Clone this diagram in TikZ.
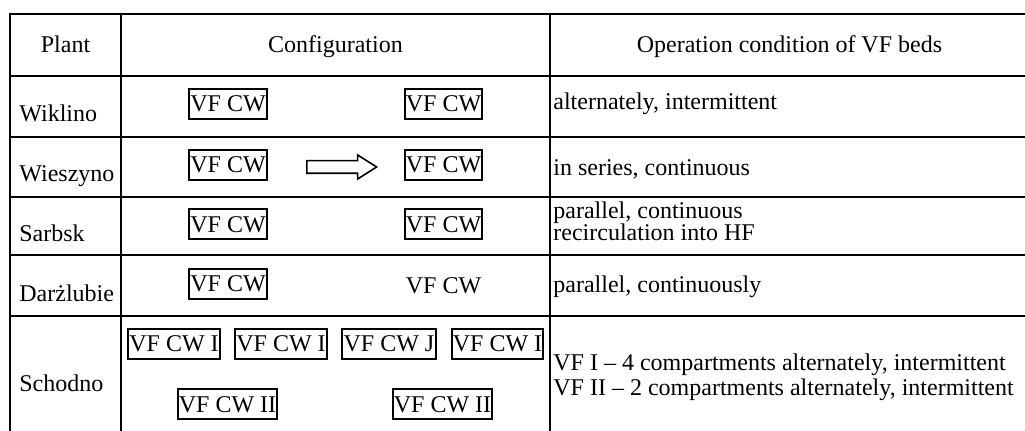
\documentclass[tikz,border=0pt]{standalone}
\usepackage{fontspec}
\setmainfont{Liberation Serif}
\usetikzlibrary{calc}
\tikzset{
	rule/.style={line width=1pt},
	bed/.style={shape=rectangle,draw,line width=1pt,
				inner xsep=0.6pt,inner ysep=0pt,
				minimum height=15pt},
	nobed/.style={bed,draw=none},
	cell/.style={anchor=base west,inner sep=0pt},
	head/.style={anchor=base,inner sep=0pt},
}

\begin{document}
\begin{tikzpicture}[x=0.5pt,y=-0.5pt,every node/.style={font=\fontsize{12}{14}\selectfont}]
		\useasboundingbox (0,0) rectangle (1025,431);
		% table rules
		\draw[rule] (10,14) -- (1030,14);
		\foreach \yy in {76,137,197,255,316}
			\draw[rule] (10,\yy) -- (1030,\yy);
		\foreach \xx in {10,121,550}
			\draw[rule] (\xx,13.5) -- (\xx,433);
		% header
		\node(hplant)[head,at={(65.5,53)}]{Plant};
		\node(hconf)[head,at={(335.5,53)}]{Configuration};
		\node(hcond)[head,at={(789.5,53)}]{Operation condition of VF beds};
		% plants
		\node(pwik)[cell,at={(19,122)}]{Wiklino};
		\node(pwie)[cell,at={(19,182)}]{Wieszyno};
		\node(psar)[cell,at={(19,241.5)}]{Sarbsk};
		\node(pdar)[cell,at={(19,301.5)}]{Darżlubie};
		\node(psch)[cell,at={(19,391.5)}]{Schodno};
		% configuration
		\node(wik1)[bed,at={(228,104)}]{VF CW};
		\node(wik2)[bed,at={(443.5,104)}]{VF CW};
		\node(wie1)[bed,at={(228,165)}]{VF CW};
		\node(wie2)[bed,at={(443.5,165)}]{VF CW};
		\node(sar1)[bed,at={(228,224.5)}]{VF CW};
		\node(sar2)[bed,at={(443.5,224.5)}]{VF CW};
		\node(dar1)[bed,at={(228,284)}]{VF CW};
		\node(dar2)[nobed,at={(443.5,286)}]{VF CW};
		\node(sch1)[bed,at={(174,344)}]{VF CW I};
		\node(sch2)[bed,at={(281,344)}]{VF CW I};
		\node(sch3)[bed,at={(389,344)}]{VF CW J};
		\node(sch4)[bed,at={(497.5,344)}]{VF CW I};
		\node(schb1)[bed,at={(227.5,404.5)}]{VF CW II};
		\node(schb2)[bed,at={(442.5,404.5)}]{VF CW II};
		% series flow
		\coordinate (tail) at ($(wie1.east)+(39,2)$);
		\coordinate (tip) at ($(wie2.west)+(-27,2)$);
		\draw[line width=0.8pt,line join=miter]
			($(tail)+(0,-6.3)$) -- ($(tip)+(-19,-6.3)$) -- ($(tip)+(-19,-12)$) -- (tip)
			-- ($(tip)+(-19,12)$) -- ($(tip)+(-19,6.3)$) -- ($(tail)+(0,6.3)$) -- cycle;
		% operation
		\node(owik)[cell,at={(553,110)}]{alternately, intermittent};
		\node(owie)[cell,at={(553,175.5)}]{in series, continuous};
		\node(osar)[cell,at={(553,218.5)}]{parallel, continuous};
		\node(osarb)[cell,at={(553,241)}]{recirculation into HF};
		\node(odar)[cell,at={(553,293)}]{parallel, continuously};
		\node(osch)[cell,at={(553,371)}]{VF I – 4 compartments alternately, intermittent};
		\node(oschb)[cell,at={(553,396)}]{VF II – 2 compartments alternately, intermittent};
\end{tikzpicture}
\end{document}
